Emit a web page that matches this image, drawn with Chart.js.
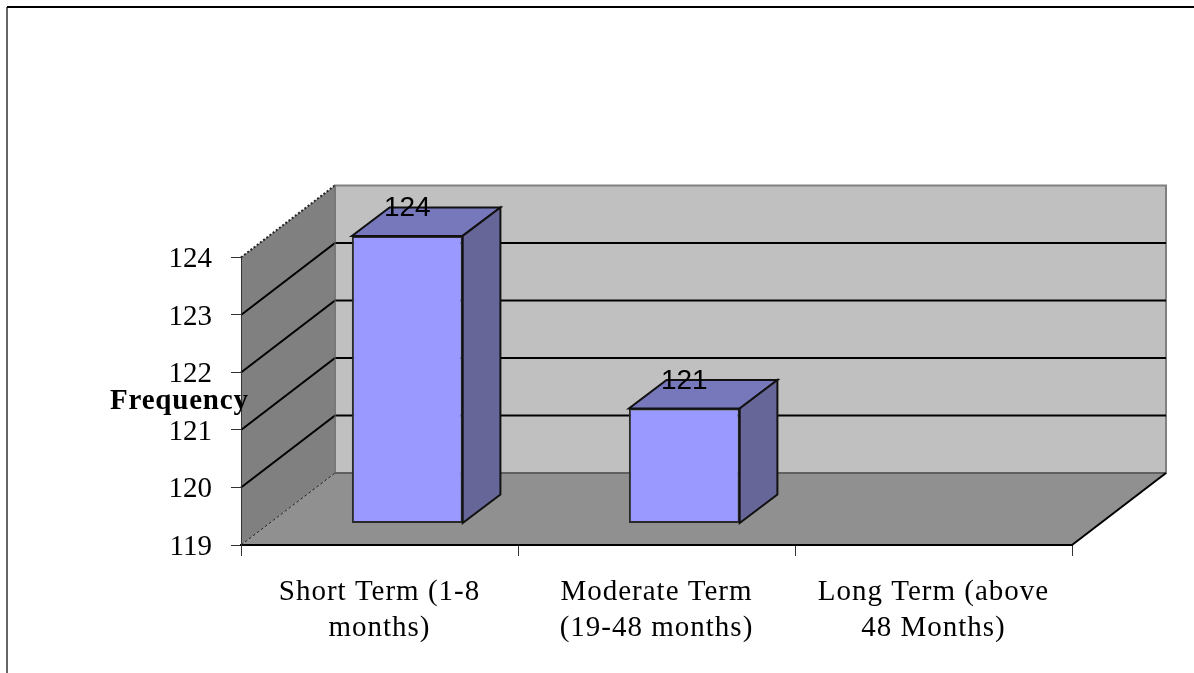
<!DOCTYPE html>
<html>
<head>
<meta charset="utf-8">
<title>Frequency by term</title>
<script src="https://cdn.jsdelivr.net/npm/chart.js@4"></script>
<style>
  html, body { margin: 0; padding: 0; background: #fff; overflow: hidden; }
  #chart { display: block; }
</style>
</head>
<body>
<canvas id="chart" width="1194" height="673"></canvas>
<script>
const categories = [
  ["Short Term (1-8", "months)"],
  ["Moderate Term", "(19-48 months)"],
  ["Long Term (above", "48 Months)"]
];
const frequency = [124, 121, null];
const yAxisTitle = "Frequency";

// how far the back wall sits behind the axes
const wallDepth = { x: 94, y: -72 };
// bars stand about a third of the way into the floor
const barShift = { x: 27.8, y: -21.5 };
const barDepth = { x: 37.7, y: -28.4 };

function fillShape(ctx, points, fill, stroke, lineWidth, dash) {
  ctx.beginPath();
  points.forEach(function(p, i) {
    if (i === 0) ctx.moveTo(p[0], p[1]);
    else ctx.lineTo(p[0], p[1]);
  });
  ctx.closePath();
  if (fill) {
    ctx.fillStyle = fill;
    ctx.fill();
  }
  if (stroke) {
    ctx.strokeStyle = stroke;
    ctx.lineWidth = lineWidth || 1;
    ctx.setLineDash(dash || []);
    ctx.stroke();
    ctx.setLineDash([]);
  }
}

function drawLine(ctx, points, color, lineWidth, dash) {
  ctx.beginPath();
  points.forEach(function(p, i) {
    if (i === 0) ctx.moveTo(p[0], p[1]);
    else ctx.lineTo(p[0], p[1]);
  });
  ctx.strokeStyle = color;
  ctx.lineWidth = lineWidth;
  ctx.setLineDash(dash || []);
  ctx.stroke();
  ctx.setLineDash([]);
}

// page frame, walls, floor and the gridlines that run along them
const wallsPlugin = {
  id: "walls",
  beforeDraw: function(chart) {
    const ctx = chart.ctx;
    const a = chart.chartArea;
    const d = wallDepth;

    // category labels are set wider than the font's normal spacing,
    // value labels sit a little below their tick marks
    const xScale = chart.scales.x;
    const yScale = chart.scales.y;
    if (!xScale.labelsPatched) {
      const drawXLabels = xScale.drawLabels;
      xScale.drawLabels = function(area) {
        ctx.letterSpacing = "1px";
        drawXLabels.call(xScale, area);
        ctx.letterSpacing = "0px";
      };
      const drawYLabels = yScale.drawLabels;
      yScale.drawLabels = function(area) {
        ctx.save();
        ctx.translate(0, 2);
        drawYLabels.call(yScale, area);
        ctx.restore();
      };
      xScale.labelsPatched = true;
    }

    ctx.save();
    drawLine(ctx, [[7, 673], [7, 7]], "#666666", 2);
    drawLine(ctx, [[7, 7], [1194, 7]], "#000000", 2);

    fillShape(ctx, [[a.left + d.x, a.top + d.y], [a.right + d.x, a.top + d.y],
      [a.right + d.x, a.bottom + d.y], [a.left + d.x, a.bottom + d.y]], "#c0c0c0", "#808080", 2);
    fillShape(ctx, [[a.left, a.top], [a.left + d.x, a.top + d.y],
      [a.left + d.x, a.bottom + d.y], [a.left, a.bottom]], "#808080");
    fillShape(ctx, [[a.left, a.bottom], [a.right, a.bottom],
      [a.right + d.x, a.bottom + d.y], [a.left + d.x, a.bottom + d.y]], "#909090");

    yScale.ticks.forEach(function(tick) {
      if (tick.value === yScale.min || tick.value === yScale.max) return;
      const y = yScale.getPixelForValue(tick.value);
      drawLine(ctx, [[a.left, y], [a.left + d.x, y + d.y], [a.right + d.x, y + d.y]], "#000000", 2);
    });

    drawLine(ctx, [[a.left, a.top], [a.left + d.x, a.top + d.y]], "#222222", 2, [2, 2]);
    drawLine(ctx, [[a.left, a.bottom], [a.left + d.x, a.bottom + d.y]], "#222222", 1, [3, 2]);
    drawLine(ctx, [[a.left + d.x, a.top + d.y], [a.left + d.x, a.bottom + d.y]], "#707070", 1);
    drawLine(ctx, [[a.left + d.x, a.bottom + d.y], [a.right + d.x, a.bottom + d.y]], "#606060", 2);
    drawLine(ctx, [[a.right, a.bottom], [a.right + d.x, a.bottom + d.y]], "#000000", 2);
    ctx.restore();
  },
  // Chart.js only draws the front face, so it is moved back onto the floor here
  beforeDatasetDraw: function(chart) {
    chart.ctx.save();
    chart.ctx.translate(barShift.x, barShift.y);
  },
  afterDatasetDraw: function(chart, args) {
    const ctx = chart.ctx;
    ctx.restore();
    ctx.save();

    args.meta.data.forEach(function(bar, i) {
      if (frequency[i] === null) return;
      const left = bar.x - bar.width / 2 + barShift.x;
      const right = bar.x + bar.width / 2 + barShift.x;
      const top = bar.y + barShift.y;
      const bottom = bar.base + barShift.y;
      const b = barDepth;

      fillShape(ctx, [[left, top], [right, top], [right + b.x, top + b.y], [left + b.x, top + b.y]],
        "#7777bb", "#111111", 2);
      fillShape(ctx, [[right, top], [right + b.x, top + b.y], [right + b.x, bottom + b.y], [right, bottom]],
        "#666699", "#111111", 2);

      ctx.font = "28px 'Liberation Sans'";
      ctx.fillStyle = "#000000";
      ctx.textAlign = "center";
      ctx.textBaseline = "middle";
      ctx.fillText(String(frequency[i]), (left + right) / 2, top + b.y + 1);
    });
    ctx.restore();
  },
  afterDraw: function(chart) {
    const ctx = chart.ctx;
    ctx.save();
    ctx.font = "bold 29px 'Liberation Serif'";
    ctx.letterSpacing = "0.8px";
    ctx.fillStyle = "#000000";
    ctx.textAlign = "left";
    ctx.textBaseline = "middle";
    ctx.fillText(yAxisTitle, 110, 402);
    ctx.letterSpacing = "0px";
    ctx.restore();
  }
};

new Chart(document.getElementById("chart"), {
  type: "bar",
  data: {
    labels: categories,
    datasets: [{
      data: frequency,
      base: 119,
      backgroundColor: "#9999ff",
      borderColor: "#2a2a2a",
      borderWidth: 2,
      borderSkipped: false,
      barPercentage: 0.4,
      categoryPercentage: 1,
      clip: false
    }]
  },
  options: {
    responsive: false,
    animation: false,
    layout: {
      padding: { top: 257.4, right: 122, left: 0, bottom: 0 }
    },
    plugins: {
      legend: { display: false },
      tooltip: { enabled: false }
    },
    scales: {
      x: {
        offset: true,
        afterFit: function(scale) { scale.height = 673 - 545; },
        border: { color: "#000000", width: 2 },
        grid: { drawOnChartArea: false, offset: true, tickLength: 11, color: "#333333" },
        ticks: {
          color: "#000000",
          padding: 18,
          maxRotation: 0,
          font: { family: "'Liberation Serif'", size: 29, lineHeight: 1.25 }
        }
      },
      y: {
        min: 119,
        max: 124,
        afterFit: function(scale) { scale.width = 241; },
        border: { color: "#333333", width: 1 },
        grid: { drawOnChartArea: false, tickLength: 10, color: "#333333" },
        ticks: {
          stepSize: 1,
          color: "#000000",
          padding: 19,
          font: { family: "'Liberation Serif'", size: 29 }
        }
      }
    }
  },
  plugins: [wallsPlugin]
});
</script>
</body>
</html>
